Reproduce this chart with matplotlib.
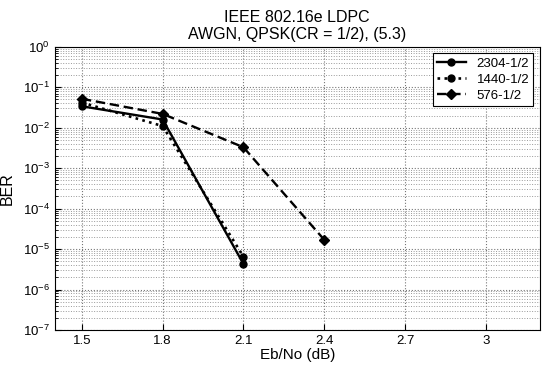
import numpy as np
import matplotlib
matplotlib.use("Agg")
import matplotlib.pyplot as plt

plt.rcParams['font.family'] = ['Liberation Sans', 'DejaVu Sans']

# data
ebno_2304 = [1.5, 1.8, 2.1]
ber_2304 = [0.034, 0.016, 4.3e-6]
ebno_1440 = [1.5, 1.8, 2.1]
ber_1440 = [0.042, 0.011, 6.5e-6]
ebno_576 = [1.5, 1.8, 2.1, 2.4]
ber_576 = [0.052, 0.022, 0.0033, 1.7e-5]

xticks = [1.5, 1.8, 2.1, 2.4, 2.7, 3]
xtick_labels = ['1.5', '1.8', '2.1', '2.4', '2.7', '3']

fig = plt.figure(figsize=(5.44, 3.75), dpi=100)
ax = fig.add_axes([0.101, 0.12, 0.891, 0.755])

ax.semilogy(ebno_2304, ber_2304, '-', color='black', lw=1.7,
            marker='o', ms=5, label='2304-1/2')
ax.semilogy(ebno_1440, ber_1440, ':', color='black', lw=1.9,
            marker='o', ms=5, label='1440-1/2')
ax.semilogy(ebno_576, ber_576, '--', color='black', lw=1.7, dashes=(4, 2),
            marker='D', ms=5, label='576-1/2')

ax.set_xlim(1.4, 3.2)
ax.set_ylim(1e-7, 1)
ax.set_xticks(xticks)
ax.set_xticklabels(xtick_labels)
ax.set_yticks([10.0 ** k for k in range(-7, 1)])
ax.grid(True, which='major', ls=':', color='#777777', lw=0.8)
ax.grid(True, which='minor', axis='y', ls=':', color='#999999', lw=0.7)
ax.tick_params(which='both', direction='in', labelsize=9.5)
ax.tick_params(which='major', length=4)
ax.tick_params(which='minor', length=2)

ax.set_xlabel('Eb/No (dB)', fontsize=11, labelpad=1)
ax.set_ylabel('BER', fontsize=11.5, labelpad=6)
ax.set_title('IEEE 802.16e LDPC\nAWGN, QPSK(CR = 1/2), (5.3)', fontsize=11.5,
             linespacing=1.1)

leg = ax.legend(loc='upper right', fontsize=9.5, fancybox=False,
                edgecolor='black', framealpha=1, handlelength=2.2,
                borderpad=0.3, labelspacing=0.3, markerfirst=True)
leg.get_frame().set_linewidth(0.8)

fig.savefig('out.png', dpi=100)
